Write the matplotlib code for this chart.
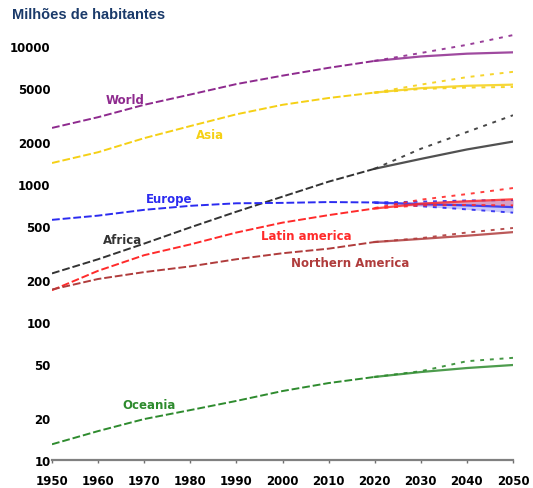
import matplotlib
matplotlib.use("Agg")
import matplotlib.pyplot as plt

# Population by region, millions (1950-2020 estimates, 2030-2050 projections)
years = [1950, 1960, 1970, 1980, 1990, 2000, 2010, 2020, 2030, 2040, 2050]
proj_years = [2020, 2030, 2040, 2050]

world = [2550, 3050, 3750, 4450, 5300, 6100, 6950, 7800, 8400, 8800, 9000]
asia = [1420, 1700, 2150, 2630, 3200, 3750, 4200, 4600, 4950, 5150, 5250]
africa = [225, 285, 370, 485, 630, 810, 1040, 1290, 1520, 1780, 2030]
europe = [550, 590, 650, 695, 725, 730, 740, 735, 715, 700, 680]
latin_america = [170, 235, 305, 365, 445, 525, 595, 665, 720, 750, 775]
northern_america = [172, 205, 230, 253, 285, 315, 340, 380, 400, 422, 448]
oceania = [13, 16.2, 19.8, 23, 26.8, 31.6, 36.1, 40, 43.4, 46.4, 48.8]

# high / low variants of the projections
world_high = [7800, 8900, 10200, 12000]
asia_high = [4600, 5250, 5950, 6500]
asia_low = [4580, 4880, 5000, 5050]
africa_high = [1290, 1800, 2380, 3150]
europe_high = [735, 745, 760, 765]
europe_low = [730, 690, 655, 620]
latin_america_high = [670, 770, 845, 935]
latin_america_low = [665, 700, 705, 700]
northern_america_high = [380, 405, 445, 480]
oceania_high = [40, 44, 52, 55]

y_ticks = [10, 20, 50, 100, 200, 500, 1000, 2000, 5000, 10000]
x_ticks = list(range(1950, 2051, 10))

series = [
    ("World", world, world_high, None, "#8E2A8E", 1965.8, 4130),
    ("Asia", asia, asia_high, asia_low, "#F5D015", 1984.3, 2300),
    ("Africa", africa, africa_high, None, "#333333", 1965.2, 399),
    ("Europe", europe, europe_high, europe_low, "#2B2BF0", 1975.4, 787),
    ("Latin america", latin_america, latin_america_high, latin_america_low, "#FF2A2A", 2005.1, 422),
    ("Northern America", northern_america, northern_america_high, None, "#B03C3C", 2014.6, 271),
    ("Oceania", oceania, oceania_high, None, "#2E8B2E", 1971.1, 25.2),
]

fig = plt.figure(figsize=(5.33, 4.89), dpi=100)
ax = fig.add_axes([52 / 533, 28 / 489, 461 / 533, 429.7 / 489])
ax.set_yscale("log")
ax.set_xlim(1950, 2050)
ax.set_ylim(10, 13000)

n_hist = years.index(2020) + 1
for name, values, high, low, color, lx, ly in series:
    ax.plot(years[:n_hist], values[:n_hist], color=color, lw=1.4,
            linestyle=(0, (4, 1.5)), solid_capstyle="butt")
    ax.plot(years[n_hist - 1:], values[n_hist - 1:], color=color, lw=1.6, alpha=0.85)
    ax.plot(proj_years, high, color=color, lw=1.4, linestyle=(0, (2, 3)), alpha=0.9)
    if low is not None:
        ax.plot(proj_years, low, color=color, lw=1.4, linestyle=(0, (2, 3)), alpha=0.9)
    ax.text(lx, ly, name, color=color, fontsize=8.5, fontweight="bold",
            ha="center", va="center")

# shaded variant ranges where the two regions overlap
ax.fill_between(proj_years, europe_low, europe_high, color="#2B2BF0", alpha=0.25, lw=0)
ax.fill_between(proj_years, latin_america_low, latin_america[n_hist - 1:],
                color="#FF2A2A", alpha=0.25, lw=0)

ax.set_yticks(y_ticks)
ax.set_yticklabels([str(v) for v in y_ticks])
ax.yaxis.set_minor_locator(matplotlib.ticker.NullLocator())
ax.set_xticks(x_ticks)
ax.set_xticklabels([str(v) for v in x_ticks])

for side in ("left", "top", "right"):
    ax.spines[side].set_visible(False)
ax.spines["bottom"].set_color("#808080")
ax.spines["bottom"].set_linewidth(1.6)
ax.tick_params(axis="y", length=0, pad=1, labelsize=8.5)
ax.tick_params(axis="x", length=2, width=1, color="#707070", pad=8, labelsize=8.5)
for lbl in ax.get_xticklabels() + ax.get_yticklabels():
    lbl.set_fontweight("bold")

fig.text(12 / 533, 1 - 15 / 489, "Milhões de habitantes", color="#1A3A6A",
         fontsize=10.5, fontweight="bold", family="Liberation Sans",
         ha="left", va="center")

fig.savefig("out.png", dpi=100)
